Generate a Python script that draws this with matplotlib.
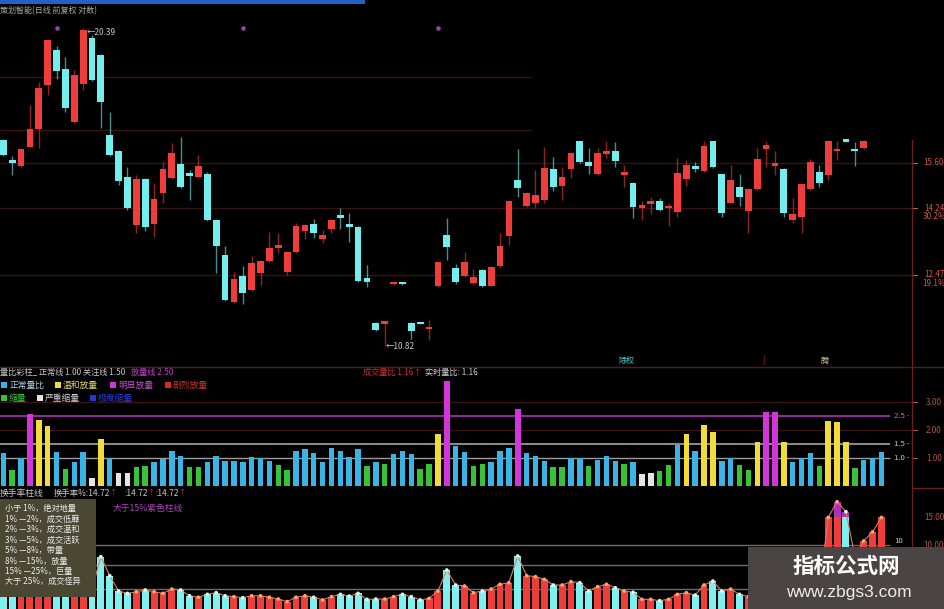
import matplotlib
matplotlib.use("Agg")
import matplotlib.pyplot as plt
from matplotlib.patches import Rectangle
from matplotlib.lines import Line2D
import numpy as np

plt.rcParams['font.family'] = ['Noto Sans CJK SC', 'DejaVu Sans']

W, H = 945, 609

# daily candles (price, forward adjusted)
opens = [16.32, 15.65, 15.50, 16.10, 16.67, 18.19, 19.53, 18.79, 16.90, 18.25,
         20.01, 19.31, 16.48, 15.95, 15.15, 13.77, 15.09, 13.79, 14.67, 15.12,
         15.55, 15.27, 15.15, 15.24, 13.91, 12.98, 11.82, 12.45, 12.10, 12.51,
         12.83, 13.17, 12.55, 13.05, 13.61, 13.79, 13.39, 13.68, 14.05, 13.80,
         13.73, 12.40, 11.33, 11.32, 12.24, 12.26, 11.33, 11.33, 11.19, 12.20,
         13.51, 12.64, 12.45, 12.28, 12.59, 12.21, 12.70, 13.48, 15.07, 14.30,
         14.38, 14.48, 15.40, 14.89, 15.39, 16.27, 15.63, 15.24, 15.86, 15.95,
         15.22, 14.97, 14.24, 14.37, 14.46, 14.25, 14.14, 15.10, 15.50, 15.34,
         16.27, 15.24, 14.40, 14.85, 14.17, 14.80, 16.02, 15.50, 15.40, 13.91,
         14.00, 14.80, 15.30, 15.22, 15.95, 16.27, 16.02, 16.05]
highs = [16.35, 15.80, 16.04, 17.49, 18.33, 19.95, 19.68, 19.27, 18.76, 20.39,
         20.10, 19.35, 17.26, 15.98, 15.47, 15.22, 15.12, 14.97, 15.63, 16.23,
         16.43, 15.37, 15.84, 15.32, 13.93, 13.21, 12.55, 12.70, 12.94, 12.86,
         13.59, 13.55, 13.08, 13.82, 13.80, 13.93, 13.64, 13.94, 14.24, 14.10,
         13.76, 12.72, 11.35, 11.35, 12.27, 12.27, 11.36, 11.35, 11.40, 12.82,
         13.96, 12.75, 13.06, 12.61, 12.61, 12.70, 13.56, 14.47, 16.02, 14.70,
         15.37, 16.10, 15.78, 15.47, 15.92, 16.30, 16.07, 16.07, 16.29, 16.25,
         15.53, 15.00, 14.45, 14.57, 14.55, 14.38, 15.73, 15.68, 15.63, 16.27,
         16.30, 15.26, 15.54, 15.24, 14.83, 16.06, 16.29, 15.97, 15.43, 14.53,
         14.97, 15.71, 15.53, 16.32, 16.29, 16.28, 16.25, 16.31]
lows = [15.80, 15.22, 15.45, 16.08, 16.06, 17.85, 18.43, 17.24, 16.88, 18.03,
        18.35, 16.71, 15.80, 14.92, 14.20, 13.55, 13.61, 13.46, 14.38, 15.10,
        14.82, 14.48, 15.12, 13.88, 12.51, 11.84, 11.80, 11.76, 12.08, 12.22,
        12.80, 13.02, 12.47, 13.02, 13.40, 13.43, 13.30, 13.55, 13.68, 13.32,
        12.30, 12.18, 11.15, 10.82, 12.22, 12.22, 10.98, 11.30, 10.96, 12.18,
        12.85, 12.25, 12.43, 12.26, 12.18, 12.19, 12.64, 13.24, 14.57, 14.27,
        14.25, 14.39, 14.74, 14.48, 15.13, 15.58, 15.25, 15.21, 15.75, 15.45,
        14.87, 13.96, 13.91, 14.08, 14.17, 13.75, 14.00, 14.90, 15.32, 15.30,
        15.42, 14.00, 14.38, 14.30, 13.55, 14.78, 15.45, 15.22, 14.00, 13.82,
        13.55, 14.78, 14.87, 15.07, 15.68, 16.25, 15.50, 16.03]
closes = [15.84, 15.60, 16.02, 16.67, 18.09, 19.92, 18.72, 17.40, 18.57, 20.30,
          18.39, 17.60, 15.84, 15.04, 14.24, 15.09, 13.73, 14.51, 15.39, 15.91,
          14.85, 15.18, 15.49, 13.91, 13.21, 11.86, 12.37, 12.02, 12.76, 12.83,
          13.17, 13.21, 13.06, 13.74, 13.77, 13.55, 13.51, 13.91, 13.97, 13.72,
          12.33, 12.30, 11.18, 11.34, 12.26, 12.24, 11.16, 11.31, 11.21, 12.80,
          13.18, 12.30, 12.80, 12.42, 12.20, 12.68, 13.21, 14.45, 14.82, 14.67,
          14.62, 15.43, 14.85, 15.15, 15.89, 15.61, 15.48, 15.89, 15.95, 15.66,
          15.29, 14.28, 14.33, 14.46, 14.19, 14.30, 15.27, 15.54, 15.40, 16.13,
          15.45, 14.10, 15.07, 14.56, 14.80, 15.71, 16.16, 15.57, 14.12, 14.08,
          14.94, 15.63, 14.99, 16.29, 15.96, 16.26, 15.95, 16.29]

price_grid = [15.60, 14.24, 12.47]
price_grid_upper = [18.50, 16.65]
price_labels = ["15.60", "14.24", "12.47"]
pct_labels = ["", "30.2%", "19.1%"]
signal_idx = [6, 27, 49]
signal_price = 20.40
high_label = "20.39"
low_label = "10.82"

# volume ratio (量比) per day
vol_ratio = [1.19, 0.59, 1.03, 2.58, 2.38, 2.16, 1.22, 0.63, 0.89, 1.24,
             0.29, 1.69, 1.03, 0.49, 0.47, 0.69, 0.73, 0.89, 0.97, 1.27,
             1.10, 0.71, 0.69, 0.86, 1.10, 0.91, 0.91, 0.86, 1.04, 1.03,
             0.91, 0.77, 0.59, 1.27, 1.33, 1.21, 0.89, 1.36, 1.27, 1.04,
             1.34, 0.74, 0.86, 0.79, 1.16, 1.27, 1.15, 0.63, 0.79, 1.88,
             3.77, 1.45, 1.24, 0.73, 0.79, 0.89, 1.28, 1.39, 2.77, 1.21,
             1.10, 0.91, 0.69, 0.69, 1.01, 1.01, 0.73, 0.95, 1.10, 0.92,
             0.79, 0.86, 0.45, 0.47, 0.56, 0.77, 1.48, 1.86, 1.27, 2.20,
             1.96, 0.91, 1.03, 0.77, 0.59, 1.60, 2.65, 2.65, 1.58, 0.86,
             1.03, 1.21, 0.74, 2.35, 2.29, 1.58, 0.65, 0.95, 1.03, 1.24]
ratio_levels = [2.5, 1.5, 1.0]
ratio_axis = [3.0, 2.0, 1.0]

# turnover rate % per day
turnover = [6.2, 4.9, 5.8, 11.5, 12.8, 11.0, 6.9, 5.2, 5.9, 7.1,
            5.3, 8.44, 6.41, 5.13, 4.96, 5.08, 5.21, 5.08, 4.96, 5.28,
            5.21, 4.79, 4.69, 4.89, 5.01, 4.79, 4.73, 4.66, 4.79, 4.79,
            4.69, 4.57, 4.40, 4.69, 4.79, 4.69, 4.51, 4.73, 4.89, 4.77,
            4.96, 4.55, 4.57, 4.57, 4.73, 4.89, 4.73, 4.51, 4.61, 5.13,
            6.96, 5.60, 5.52, 5.01, 5.13, 5.28, 5.66, 5.79, 8.53, 6.41,
            6.32, 6.08, 5.60, 5.60, 5.88, 5.79, 5.13, 5.47, 5.66, 5.38,
            5.13, 5.04, 4.55, 4.55, 4.46, 4.55, 4.89, 5.01, 4.84, 5.60,
            5.93, 5.13, 5.28, 4.89, 4.73, 6.2, 8.8, 9.0, 6.4, 5.2,
            5.6, 6.0, 5.1, 14.9, 18.73, 16.2, 8.5, 10.6, 12.1, 14.9]
turnover_tail_up = [True, True]
turnover_grid = [10, 7.5, 5.3]
turnover_axis = [15.0, 10.0]
legend_rows = ["小于 1%，绝对地量", "1% —2%，成交低靡", "2% —3%，成交温和",
               "3% —5%，成交活跃", "5% —8%，带量", "8% —15%，放量",
               "15% —25%，巨量", "大于 25%，成交怪异"]

RED = '#ee3d3a'
CYAN = '#72eeee'
GRID = '#3a1414'
STEP, X0 = 8.87, 3.3


def frac_rect(x0, y0, x1, y1):
	return [x0 / W, 1 - y1 / H, (x1 - x0) / W, (y1 - y0) / H]


def ftext(fig, x, y, s, **kw):
	kw.setdefault('va', 'center')
	kw.setdefault('ha', 'left')
	kw.setdefault('fontsize', 6.3)
	fig.text(x / W, 1 - y / H, s, **kw)


def fbox(fig, x0, y0, x1, y1, color, z=5):
	fig.add_artist(Rectangle((x0 / W, 1 - y1 / H), (x1 - x0) / W, (y1 - y0) / H,
	                         transform=fig.transFigure, color=color, lw=0, zorder=z))


def fline(fig, x0, y0, x1, y1, color, lw=1):
	fig.add_artist(Line2D([x0 / W, x1 / W], [1 - y0 / H, 1 - y1 / H],
	                      transform=fig.transFigure, color=color, lw=lw, zorder=4))


def ratio_color(v):
	if v < 0.5:
		return '#e4e4e4'
	elif v < 0.8:
		return '#36c436'
	elif v < 1.5:
		return '#3ab4e4'
	elif v < 2.5:
		return '#f2dc3a'
	return '#d236d8'


def right_label(ax, v, s, color, xpx=934, dy=0):
	ax.annotate(s, xy=(xpx / 912, v), xycoords=ax.get_yaxis_transform(),
	            xytext=(0, dy), textcoords='offset points',
	            ha='center', va='center', fontsize=5.8, color=color, annotation_clip=False)


def main():
	fig = plt.figure(figsize=(W / 100, H / 100), dpi=100, facecolor='black')
	xlim = (-X0 / STEP, (912 - X0) / STEP)
	line_end = (890 - X0) / STEP

	# ---- price panel ----
	ax1 = fig.add_axes(frac_rect(0, 6, 912, 364))
	ax1.set_yscale('log')
	ax1.set_xlim(*xlim)
	ax1.set_ylim(12.47 * np.exp(-89 / 502), 12.47 * np.exp(269 / 502))
	ax1.set_axis_off()
	ax1.hlines(price_grid, xlim[0], xlim[1], color=GRID, lw=1, zorder=0)
	ax1.hlines(price_grid_upper, xlim[0], (532 - X0) / STEP, color=GRID, lw=1, zorder=0)
	for i in range(len(opens)):
		o, c = opens[i], closes[i]
		col = RED if c >= o else CYAN
		ax1.vlines(i, lows[i], highs[i], color=col, lw=1, alpha=0.6, zorder=2)
		lo = min(o, c)
		h = max(abs(c - o), lo * 0.005)
		ax1.bar(i, h, bottom=lo, width=0.76, color=col, lw=0, zorder=3)
	ax1.scatter(signal_idx, [signal_price] * len(signal_idx), s=5, color='#9048b0', zorder=3)
	hi_i = int(np.argmax(highs))
	lo_i = int(np.argmin(lows))
	ax1.text(hi_i + 0.35, highs[hi_i], "←" + high_label, fontsize=6, color='#c8c8c8', va='top')
	ax1.text(lo_i + 0.15, lows[lo_i], "←" + low_label, fontsize=6, color='#c8c8c8', va='center')
	for v, s, p in zip(price_grid, price_labels, pct_labels):
		right_label(ax1, v, s, '#c8584c')
		if p:
			right_label(ax1, v, p, '#c8584c', dy=-6)
		ax1.plot([1.0, 1.006], [v, v], transform=ax1.get_yaxis_transform(),
		         color='#c8584c', lw=0.8, clip_on=False)

	# ---- volume ratio panel ----
	ax2 = fig.add_axes(frac_rect(0, 366, 912, 487))
	ax2.set_xlim(*xlim)
	ax2.set_ylim(-0.018, 4.30)
	ax2.set_axis_off()
	x = np.arange(len(vol_ratio))
	ax2.hlines(ratio_axis[:2], xlim[0], xlim[1], color=GRID, lw=1, zorder=0)
	ax2.hlines(ratio_levels[0], xlim[0], line_end, color='#a42ca8', lw=1.3, zorder=1)
	ax2.hlines(ratio_levels[1], xlim[0], line_end, color='#b4b4b4', lw=1.1, zorder=1)
	ax2.hlines(ratio_levels[2], xlim[0], line_end, color='#9c9c9c', lw=1.0, zorder=1)
	ax2.bar(x, vol_ratio, width=0.62, color=[ratio_color(v) for v in vol_ratio], lw=0, zorder=2)
	for v, col in zip(ratio_levels, ['#c070c0', '#c8c8c8', '#c8c8c8']):
		ax2.text((894 - X0) / STEP, v, f"{v:.1f} -", fontsize=5.6, color=col, va='center')
	for v in ratio_axis:
		right_label(ax2, v, f"{v:.2f}", '#b45444')
		ax2.plot([1.0, 1.006], [v, v], transform=ax2.get_yaxis_transform(),
		         color='#b45444', lw=0.8, clip_on=False)

	# ---- turnover panel ----
	ax3 = fig.add_axes(frac_rect(0, 487, 912, 609))
	ax3.set_yscale('log')
	ax3.set_xlim(*xlim)
	ax3.set_ylim(10 * np.exp(-64 / 69), 10 * np.exp(58 / 69))
	ax3.set_axis_off()
	ups = [c >= o for o, c in zip(opens, closes)] + turnover_tail_up
	tv = np.array(turnover)
	x3 = np.arange(len(tv))
	ax3.hlines(turnover_grid, xlim[0], line_end, color='#6c6c6c', lw=1, zorder=0)
	ax3.bar(x3, tv - 1, bottom=1, width=0.78, color=[RED if u else '#7ef0f0' for u in ups],
	        lw=0, zorder=2)
	big = tv > 15
	ax3.bar(x3[big], tv[big] - 15, bottom=15, width=0.78, color='#b030b8', lw=0, zorder=2)
	ax3.plot(x3, tv, color='#e07a5c', lw=0.8, zorder=3)
	ax3.scatter(x3, tv, s=7, color=['#f6a86c' if u else '#dafafa' for u in ups], zorder=4, lw=0)
	ax3.text((894 - X0) / STEP, turnover_grid[0], "10", fontsize=5.6, color='#c8c8c8', va='bottom')
	for v in turnover_axis:
		right_label(ax3, v, f"{v:.2f}", '#b45444')

	# ---- frame lines ----
	fbox(fig, 0, 0, 365, 4, '#2262c4')
	fline(fig, 0, 366.5, 945, 366.5, '#5a1a1a')
	fline(fig, 912, 487.5, 945, 487.5, '#6a1e1e')
	fline(fig, 912, 140, 912, 609, '#6a1e1e')

	# ---- texts ----
	ftext(fig, 0, 11, "策划智能(日线 前复权 对数)", color='#a8a8a8', fontsize=5.8)
	ftext(fig, 618, 360, "除权", color='#52c8d2', fontsize=5.8)
	ftext(fig, 762, 360, "|", color='#d03030', fontsize=5.8)
	ftext(fig, 821, 360, "腾", color='#d8c8a0', fontsize=5.8)

	ftext(fig, 0, 372, "量比彩柱_ 正常线 1.00 关注线 1.50", color='#c8c8c8', fontsize=5.9)
	ftext(fig, 131, 372, "放量线 2.50", color='#c040c8', fontsize=5.9)
	ftext(fig, 363, 372, "成交量比 1.16↑", color='#c83030', fontsize=5.9)
	ftext(fig, 425, 372, "实时量比: 1.16", color='#d0d0d0', fontsize=5.9)
	row2 = [(1, '#3ab4e4', "正常量比", '#a8d4e4'), (55, '#f2dc3a', "温和放量", '#e4d470'),
	        (110, '#d236d8', "明显放量", '#c050c8'), (165, '#d82a2a', "剧烈放量", '#c83030')]
	for xp, sq, s, tc in row2:
		fbox(fig, xp, 382, xp + 6, 388, sq)
		ftext(fig, xp + 8, 385.5, s, color=tc)
	row3 = [(1, '#36c436', "缩量", '#40c040'), (37, '#e4e4e4', "严重缩量", '#d0d0d0'),
	        (90, '#2a36d0', "极度缩量", '#2a3ad8')]
	for xp, sq, s, tc in row3:
		fbox(fig, xp, 395, xp + 6, 401, sq)
		ftext(fig, xp + 8, 398.5, s, color=tc)

	ftext(fig, 0, 493, "换手率柱线", color='#c8c8c8')
	ftext(fig, 54, 493, "换手率%:14.72", color='#c8c8c8', fontsize=6)
	ftext(fig, 109, 492, "↑", color='#d03030', fontsize=5)
	ftext(fig, 124, 493, ":14.72", color='#c8c8c8', fontsize=6)
	ftext(fig, 147, 492, "↑", color='#d03030', fontsize=5)
	ftext(fig, 155, 493, ":14.72", color='#c8c8c8', fontsize=6)
	ftext(fig, 178, 492, "↑", color='#d03030', fontsize=5)
	ftext(fig, 113, 508, "大于15%紫色柱线", color='#b040c0')

	fbox(fig, 0, 499, 96, 597, '#4a4733')
	for k, s in enumerate(legend_rows):
		ftext(fig, 5, 509 + 10.4 * k, s, color='#ececec', fontsize=5.9, zorder=6)

	fbox(fig, 748, 547, 945, 609, '#4a4444')
	ftext(fig, 846, 566, "指标公式网", color='white', fontsize=15.5, fontweight='bold',
	      ha='center', zorder=6)
	ftext(fig, 849, 592, "www.zbgs3.com", color='#ececec', fontsize=12.5, ha='center', zorder=6,
	      family=['Liberation Sans', 'DejaVu Sans'])

	fig.savefig("out.png", dpi=100, facecolor='black')


if __name__ == "__main__":
	main()
